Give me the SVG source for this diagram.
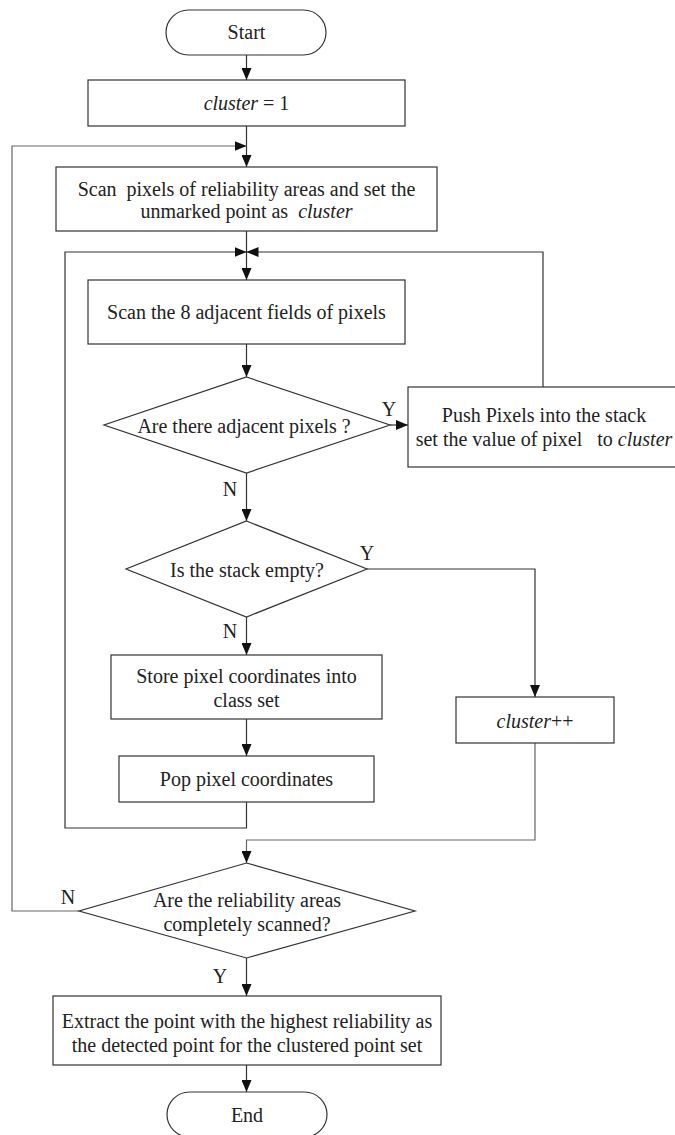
<svg xmlns="http://www.w3.org/2000/svg" width="675" height="1135" viewBox="0 0 675 1135">
<style>
.n{fill:#fff;stroke:#333;stroke-width:1.2}
.t{font-family:"Liberation Serif","Times New Roman",serif;font-size:20px;fill:#222;text-anchor:middle}
.l{font-family:"Liberation Serif","Times New Roman",serif;font-size:20px;fill:#222;text-anchor:middle}
.i{font-style:italic}
.c{fill:none;stroke:#333;stroke-width:1.2}
.g{stroke:#666}
</style>
<defs>
<marker id="a" markerUnits="userSpaceOnUse" markerWidth="12" markerHeight="10" refX="12" refY="5" orient="auto">
<path d="M0,0 L12,5 L0,10 z" fill="#111"/>
</marker>
</defs>
<g id="connectors">
<path class="c" d="M246.5,55 V80" marker-end="url(#a)"/>
<path class="c" d="M246.5,126 V167" marker-end="url(#a)"/>
<path class="c g" d="M79,911 H12 V146 H246.5" marker-end="url(#a)"/>
<path class="c" d="M246.5,231 V280" marker-end="url(#a)"/>
<path class="c" d="M246.5,802 V828 H65 V252 H246.5" marker-end="url(#a)"/>
<path class="c" d="M543,387 V252 H246.5" marker-end="url(#a)"/>
<path class="c" d="M246.5,344 V377" marker-end="url(#a)"/>
<path class="c" d="M390,425 H408" marker-end="url(#a)"/>
<path class="c" d="M246.5,473 V521" marker-end="url(#a)"/>
<path class="c" d="M367,569 H535 V697" marker-end="url(#a)"/>
<path class="c" d="M246.5,617 V655" marker-end="url(#a)"/>
<path class="c" d="M246.5,719 V756" marker-end="url(#a)"/>
<path class="c g" d="M535,743 V840 H246.5 V863" marker-end="url(#a)"/>
<path class="c" d="M246.5,958 V996" marker-end="url(#a)"/>
<path class="c" d="M246.5,1065 V1092" marker-end="url(#a)"/>
<text class="l" x="389" y="416">Y</text>
<text class="l" x="230" y="496">N</text>
<text class="l" x="367" y="560">Y</text>
<text class="l" x="230" y="638">N</text>
<text class="l" x="68" y="904">N</text>
<text class="l" x="220" y="983">Y</text>
</g>
<g id="start">
<rect class="n" x="166" y="10" width="160" height="45" rx="22.5"/>
<text class="t" x="246.5" y="39">Start</text>
</g>
<g id="init">
<rect class="n" x="88" y="80" width="317" height="46"/>
<text class="t" x="246.5" y="110"><tspan class="i">cluster</tspan> = 1</text>
</g>
<g id="scan">
<rect class="n" x="56" y="167" width="381" height="64"/>
<text class="t" x="246.5" y="196" xml:space="preserve">Scan  pixels of reliability areas and set the</text>
<text class="t" x="246.5" y="218" xml:space="preserve">unmarked point as  <tspan class="i">cluster</tspan></text>
</g>
<g id="scan8">
<rect class="n" x="88" y="280" width="317" height="64"/>
<text class="t" x="246.5" y="319">Scan the 8 adjacent fields of pixels</text>
</g>
<g id="adjacent">
<polygon class="n" points="246.5,377 390,425 246.5,473 104,425"/>
<text class="t" x="244" y="433">Are there adjacent pixels ?</text>
</g>
<g id="push">
<rect class="n" x="408" y="387" width="272" height="80"/>
<text class="t" x="544" y="422">Push Pixels into the stack</text>
<text class="t" x="544" y="446" xml:space="preserve">set the value of pixel   to <tspan class="i">cluster</tspan></text>
</g>
<g id="empty">
<polygon class="n" points="246.5,521 367,569 246.5,617 126,569"/>
<text class="t" x="247" y="577">Is the stack empty?</text>
</g>
<g id="store">
<rect class="n" x="111" y="655" width="271" height="64"/>
<text class="t" x="246.5" y="683">Store pixel coordinates into</text>
<text class="t" x="246.5" y="707">class set</text>
</g>
<g id="pop">
<rect class="n" x="119" y="756" width="255" height="46"/>
<text class="t" x="246.5" y="786">Pop pixel coordinates</text>
</g>
<g id="inc">
<rect class="n" x="456" y="697" width="158" height="46"/>
<text class="t" x="535" y="728"><tspan class="i">cluster</tspan>++</text>
</g>
<g id="scanned">
<polygon class="n" points="246.5,863 415,911 246.5,958 79,911"/>
<text class="t" x="247" y="907">Are the reliability areas</text>
<text class="t" x="247" y="931">completely scanned?</text>
</g>
<g id="extract">
<rect class="n" x="53" y="996" width="388" height="69"/>
<text class="t" x="247" y="1028">Extract the point with the highest reliability as</text>
<text class="t" x="247" y="1052">the detected point for the clustered point set</text>
</g>
<g id="end">
<rect class="n" x="167" y="1092" width="160" height="45" rx="22.5"/>
<text class="t" x="247" y="1122">End</text>
</g>
</svg>
